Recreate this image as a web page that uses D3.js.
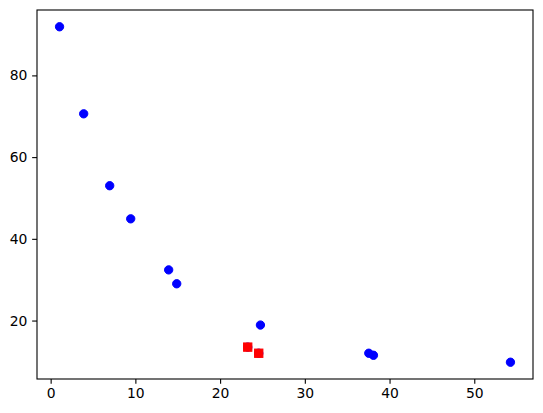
<!DOCTYPE html>
<html>
<head>
<meta charset="utf-8">
<script src="https://cdn.jsdelivr.net/npm/d3@7"></script>
<style>
	body { margin: 0; background: #fff; }
	.tick text { font-family: "DejaVu Sans", sans-serif; font-size: 13.9px; fill: #000; }
</style>
</head>
<body>
<svg id="chart" width="543" height="413"></svg>
<script>
// blue circles (all points)
var blueX = [1.05, 3.9, 6.97, 9.45, 13.93, 14.88, 24.76, 23.26, 24.56, 37.55, 38.1, 54.27];
var blueY = [91.9, 70.6, 53.0, 44.9, 32.4, 29.0, 18.9, 13.5, 12.0, 12.0, 11.5, 9.8];
// red squares drawn on top
var redX = [23.26, 24.56];
var redY = [13.5, 12.0];

var xTicks = [0, 10, 20, 30, 40, 50];
var yTicks = [20, 40, 60, 80];

var svg = d3.select("#chart");
// plot area in pixels (window.top is taken, so own names)
var padL = 37, padR = 533, padT = 10, padB = 379;

// 5% margins like matplotlib autoscale
var allX = blueX.concat(redX), allY = blueY.concat(redY);
var xMin = d3.min(allX), xMax = d3.max(allX);
var yMin = d3.min(allY), yMax = d3.max(allY);
var xPad = (xMax - xMin) * 0.05, yPad = (yMax - yMin) * 0.05;

var x = d3.scaleLinear().domain([xMin - xPad, xMax + xPad]).range([padL, padR]);
var y = d3.scaleLinear().domain([yMin - yPad, yMax + yPad]).range([padB, padT]);

var tickLen = 4.86;

var xAxis = svg.append("g")
		.attr("transform", "translate(0," + padB + ")")
		.call(d3.axisBottom(x).tickValues(xTicks).tickSize(tickLen).tickPadding(4.5).tickFormat(d3.format("d")));
var yAxis = svg.append("g")
		.attr("transform", "translate(" + padL + ",0)")
		.call(d3.axisLeft(y).tickValues(yTicks).tickSize(tickLen).tickPadding(4.8).tickFormat(d3.format("d")));

[xAxis, yAxis].forEach(function(g){
	g.select(".domain").remove();
	g.selectAll(".tick line").attr("stroke", "#000").attr("stroke-width", 1.1);
});

// frame
svg.append("rect")
		.attr("x", padL).attr("y", padT)
		.attr("width", padR - padL).attr("height", padB - padT)
		.attr("fill", "none").attr("stroke", "#000").attr("stroke-width", 1.1);

var pts = blueX.map(function(d, i){ return {x: d, y: blueY[i]}; });
svg.append("g").selectAll("circle")
		.data(pts)
		.enter().append("circle")
				.attr("cx", function(d){ return x(d.x); })
				.attr("cy", function(d){ return y(d.y); })
				.attr("r", 4.17)
				.attr("fill", "#0000ff")
				.attr("stroke", "#0000ff")
				.attr("stroke-width", 1);

var sq = redX.map(function(d, i){ return {x: d, y: redY[i]}; });
var side = 8.33;
svg.append("g").selectAll("rect")
		.data(sq)
		.enter().append("rect")
				.attr("x", function(d){ return x(d.x) - side / 2; })
				.attr("y", function(d){ return y(d.y) - side / 2; })
				.attr("width", side)
				.attr("height", side)
				.attr("fill", "#ff0000")
				.attr("stroke", "#ff0000")
				.attr("stroke-width", 1);
</script>
</body>
</html>
